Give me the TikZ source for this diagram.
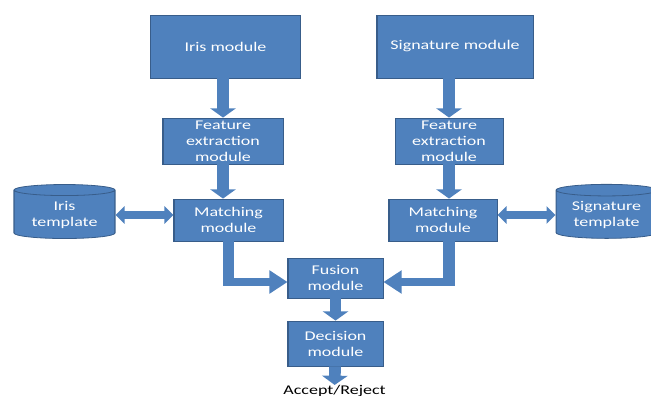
\documentclass[tikz,border=0pt]{standalone}
\usepackage{fontspec}
\setmainfont{Carlito}
\usetikzlibrary{arrows.meta,shapes.geometric}
\definecolor{boxblue}{HTML}{4F81BD}
\definecolor{edgeblue}{HTML}{385D8A}

\begin{document}
\begin{tikzpicture}[x=0.5556pt, y=-0.75pt,
	module/.style = {draw=edgeblue, fill=boxblue, text=white, align=center, inner sep=0.5pt, line width=0.6pt, font=\fontsize{10}{12}\selectfont},
	store/.style = {module, cylinder, shape border rotate=90, aspect=0.22, minimum width=56.1pt, minimum height=40.5pt},
	flow/.style = {draw=boxblue, line width=6.5pt, -{Triangle[length=7pt,width=14pt]}},
	merge/.style = {flow, -{Triangle[length=10pt,width=17pt]}},
	twoway/.style = {draw=boxblue, line width=5.5pt, {Triangle[length=5pt,width=13pt]}-{Triangle[length=5pt,width=13pt]}}]
	\path[use as bounding box] (0pt,0pt) rectangle (488.25pt,-297pt);
	\begin{scope}[transform canvas={xscale=1.35}]
	% boxes
	\node[module, minimum width=83.3pt, minimum height=47.25pt] (iris) at (225.5,46.5) {Iris module};
	\node[module, minimum width=86.7pt, minimum height=47.25pt] (sig) at (455,46.5) {Signature module};
	\node[module, minimum width=66.7pt, minimum height=34.5pt] (feat1) at (223,141) {Feature\\extraction\\module};
	\node[module, minimum width=60pt, minimum height=34.5pt] (feat2) at (449,141) {Feature\\extraction\\module};
	\node[module, minimum width=60.6pt, minimum height=31.5pt] (match1) at (228.5,220) {Matching\\module};
	\node[module, minimum width=60pt, minimum height=31.5pt] (match2) at (443,220) {Matching\\module};
	\node[store] (tmpl1) at (64.5,215) {Iris\\template};
	\node[store] (tmpl2) at (606.5,215) {Signature\\template};
	\node[module, minimum width=52.8pt, minimum height=30pt] (fusion) at (335.5,278) {Fusion\\module};
	\node[module, minimum width=52.8pt, minimum height=33.75pt] (decision) at (335.5,343.5) {Decision\\module};
	\node[anchor=north, inner sep=0pt, font=\fontsize{10}{12}\selectfont] (result) at (334.5,385) {Accept/Reject};
	% arrows
	\draw[flow] (feat1.north |- iris.south) -- (feat1.north);
	\draw[flow] (feat2.north |- sig.south) -- (feat2.north);
	\draw[flow] (feat1.south) -- (feat1.south |- match1.north);
	\draw[flow] (feat2.south) -- (feat2.south |- match2.north);
	\draw[twoway] (tmpl1.east) -- (tmpl1.east -| match1.west);
	\draw[twoway] (match2.east |- tmpl2.west) -- (tmpl2.west);
	\draw[merge] (match1.south) |- ([yshift=-3pt]fusion.west);
	\draw[merge] (feat2.south |- match2.south) |- ([yshift=-3pt]fusion.east);
	\draw[flow] (fusion) -- (decision);
	\draw[flow] (decision) -- (result);
	\end{scope}
\end{tikzpicture}
\end{document}
